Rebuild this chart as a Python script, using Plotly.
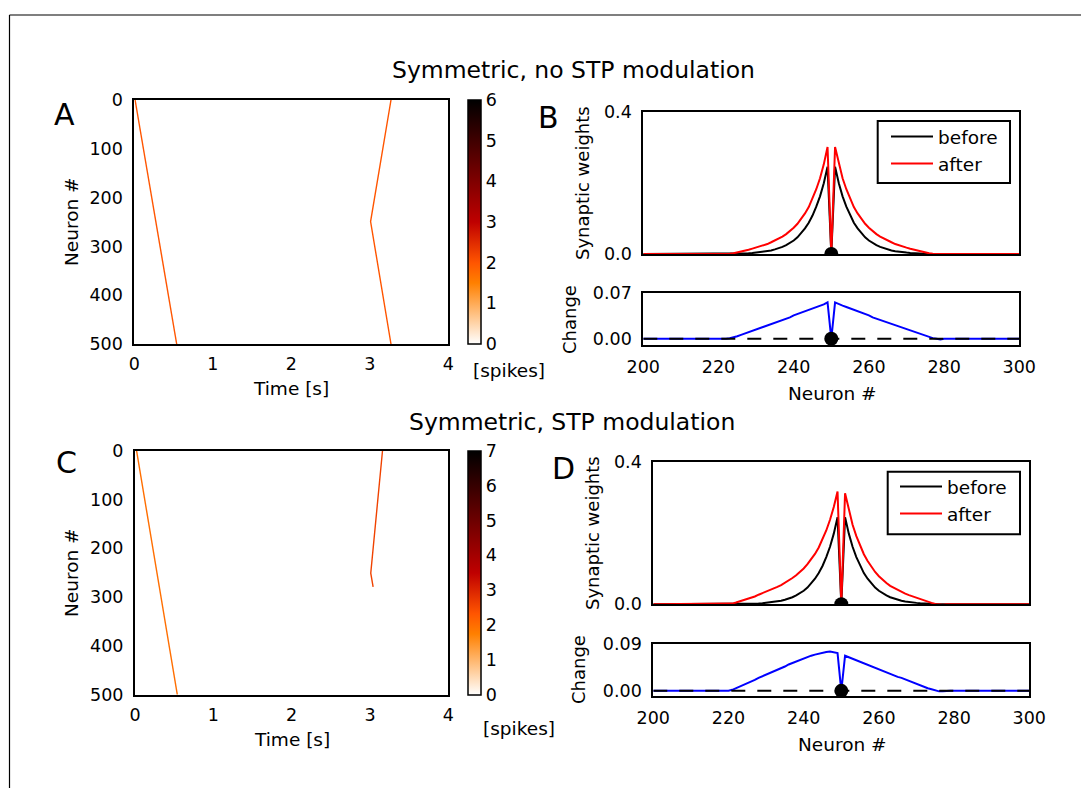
import plotly.graph_objects as go
from plotly.colors import sample_colorscale

W, H = 1081, 788
FONT = "DejaVu Sans"

# ---------------- data ----------------
time_ticks = [0, 1, 2, 3, 4]
neuron_ticks = [0, 100, 200, 300, 400, 500]
zoom_ticks = [200, 220, 240, 260, 280, 300]

# spike wave fronts (time [s] vs neuron #) and their spike counts
A_wave1_t = [0.01, 0.54]
A_wave1_n = [0, 500]
A_wave2_t = [3.27, 3.01, 3.27]
A_wave2_n = [0, 249, 500]
A_wave_spikes = [2, 2]
A_cmax = 6

C_wave1_t = [0.02, 0.54]
C_wave1_n = [0, 500]
C_wave2_t = [3.16, 3.01, 3.04]
C_wave2_n = [0, 251, 279]
C_wave_spikes = [2, 2.6]
C_cmax = 7

probe_neuron = 250
neurons = list(range(200, 301))

w_before = [
    0, 0, 0, 0, 0, 0, 0, 0, 0, 0,                      # 200-209
    0, 0, 0, 0, 0, 0, 0, 0, 0, 0,                      # 210-219
    0, 0, 0, 0, 0, 0, 0.001, 0.001, 0.002, 0.003,      # 220-229
    0.004, 0.005, 0.006, 0.008, 0.010, 0.013, 0.016, 0.020, 0.025, 0.031,  # 230-239
    0.038, 0.047, 0.058, 0.072, 0.088, 0.108, 0.133, 0.162, 0.199, 0.245,  # 240-249
    0,                                                 # 250
    0.245, 0.199, 0.162, 0.133, 0.108, 0.088, 0.072, 0.058, 0.047, 0.038,  # 251-260
    0.031, 0.025, 0.020, 0.016, 0.013, 0.010, 0.008, 0.006, 0.005, 0.004,  # 261-270
    0.003, 0.002, 0.001, 0.001, 0, 0, 0, 0, 0, 0,      # 271-280
    0, 0, 0, 0, 0, 0, 0, 0, 0, 0,                      # 281-290
    0, 0, 0, 0, 0, 0, 0, 0, 0, 0,                      # 291-300
]

w_after_B = [
    0, 0, 0, 0, 0, 0, 0, 0, 0, 0,                      # 200-209
    0, 0, 0, 0, 0, 0, 0, 0, 0, 0,                      # 210-219
    0, -0.001, 0, 0.001, 0.002, 0.004, 0.007, 0.009, 0.012, 0.015,  # 220-229
    0.018, 0.021, 0.024, 0.028, 0.033, 0.038, 0.043, 0.049, 0.056, 0.064,  # 230-239
    0.074, 0.085, 0.098, 0.114, 0.132, 0.155, 0.182, 0.213, 0.252, 0.301,  # 240-249
    0,                                                 # 250
    0.301, 0.252, 0.213, 0.182, 0.155, 0.132, 0.114, 0.098, 0.085, 0.074,  # 251-260
    0.064, 0.056, 0.049, 0.043, 0.038, 0.033, 0.028, 0.024, 0.021, 0.018,  # 261-270
    0.015, 0.012, 0.009, 0.007, 0.004, 0.002, 0.001, 0, -0.001, 0,        # 271-280
    0, 0, 0, 0, 0, 0, 0, 0, 0, 0,                      # 281-290
    0, 0, 0, 0, 0, 0, 0, 0, 0, 0,                      # 291-300
]

w_after_D = [
    0, 0, 0, 0, 0, 0, 0, 0, 0, 0,                      # 200-209
    0, 0, 0, 0, 0, 0, 0, 0, 0, 0,                      # 210-219
    0, 0.002, 0.005, 0.008, 0.012, 0.015, 0.019, 0.022, 0.027, 0.031,  # 220-229
    0.035, 0.039, 0.043, 0.049, 0.054, 0.060, 0.067, 0.074, 0.082, 0.091,  # 230-239
    0.101, 0.113, 0.126, 0.142, 0.160, 0.182, 0.208, 0.238, 0.274, 0.318,  # 240-249
    0,                                                 # 250
    0.313, 0.264, 0.224, 0.192, 0.164, 0.141, 0.122, 0.105, 0.091, 0.079,  # 251-260
    0.069, 0.060, 0.052, 0.046, 0.040, 0.035, 0.030, 0.026, 0.022, 0.018,  # 261-270
    0.014, 0.010, 0.006, 0.004, 0.001, -0.001, -0.001, 0, 0, 0,            # 271-280
    0, 0, 0, 0, 0, 0, 0, 0, 0, 0,                      # 281-290
    0, 0, 0, 0, 0, 0, 0, 0, 0, 0,                      # 291-300
]

assert len(w_before) == len(w_after_B) == len(w_after_D) == len(neurons)
change_B = [round(a - b, 4) for a, b in zip(w_after_B, w_before)]
change_D = [round(a - b, 4) for a, b in zip(w_after_D, w_before)]

# ---------------- style ----------------
gist_heat_r = [[0, "rgb(255,255,255)"], [0.25, "rgb(255,128,0)"],
               [1 / 3, "rgb(255,85,0)"], [0.5, "rgb(191,0,0)"], [1, "rgb(0,0,0)"]]


def px_x(p):
    return p / W


def px_y(p):
    return 1 - p / H


fig = go.Figure()


def wave(t, n, spikes, cmax, xa, ya, cax):
    col = sample_colorscale(gist_heat_r, [spikes / cmax])[0]
    fig.add_trace(go.Scatter(
        x=t, y=n, mode="lines", xaxis=xa, yaxis=ya, showlegend=False,
        line=dict(color=col, width=1.4), hoverinfo="skip"))
    # invisible markers carrying the spike count -> drives the colorbar
    fig.add_trace(go.Scatter(
        x=t, y=n, mode="markers", xaxis=xa, yaxis=ya, showlegend=False,
        marker=dict(size=1, opacity=0, color=[spikes] * len(t), coloraxis=cax),
        hoverinfo="skip"))


wave(A_wave1_t, A_wave1_n, A_wave_spikes[0], A_cmax, "x", "y", "coloraxis")
wave(A_wave2_t, A_wave2_n, A_wave_spikes[1], A_cmax, "x", "y", "coloraxis")
wave(C_wave1_t, C_wave1_n, C_wave_spikes[0], C_cmax, "x4", "y4", "coloraxis2")
wave(C_wave2_t, C_wave2_n, C_wave_spikes[1], C_cmax, "x4", "y4", "coloraxis2")


def weights_panel(after, change, xa_top, ya_top, xa_bot, ya_bot, leg):
    fig.add_trace(go.Scatter(x=neurons, y=w_before, mode="lines", name="before",
                             line=dict(color="black", width=2), xaxis=xa_top, yaxis=ya_top,
                             legend=leg))
    fig.add_trace(go.Scatter(x=neurons, y=after, mode="lines", name="after",
                             line=dict(color="red", width=2), xaxis=xa_top, yaxis=ya_top,
                             legend=leg))
    fig.add_trace(go.Scatter(x=[probe_neuron], y=[0], mode="markers", showlegend=False,
                             marker=dict(size=14, color="black"), xaxis=xa_top, yaxis=ya_top))
    fig.add_trace(go.Scatter(x=neurons, y=change, mode="lines", showlegend=False,
                             line=dict(color="blue", width=2), xaxis=xa_bot, yaxis=ya_bot))
    fig.add_trace(go.Scatter(x=[neurons[0], neurons[-1]], y=[0, 0], mode="lines",
                             showlegend=False,
                             line=dict(color="black", width=2, dash="14px,12px"),
                             xaxis=xa_bot, yaxis=ya_bot))
    fig.add_trace(go.Scatter(x=[probe_neuron], y=[0], mode="markers", showlegend=False,
                             marker=dict(size=14, color="black"), xaxis=xa_bot, yaxis=ya_bot))


weights_panel(w_after_B, change_B, "x2", "y2", "x3", "y3", "legend")
weights_panel(w_after_D, change_D, "x5", "y5", "x6", "y6", "legend2")

tickfont = dict(family=FONT, size=17.5, color="black")
frame = dict(showline=True, mirror=True, linewidth=2, linecolor="black",
             showgrid=False, zeroline=False, ticks="", tickfont=tickfont,
             fixedrange=True, automargin=False)

# pixel boxes (left, right, top, bottom)
boxA = (134.3, 448.3, 100, 344)
boxC = (135, 448.3, 450.7, 694.7)
boxBt = (643.3, 1019.3, 111.7, 254)
boxBb = (643.3, 1019.3, 293.3, 345.3)
boxDt = (653.3, 1029.3, 462.3, 604.3)
boxDb = (653.3, 1029.3, 644.3, 696)
legbox_B = (877.7, 1010, 121, 183)
legbox_D = (887.7, 1020, 471.7, 534.3)


def dom(b):
    return [px_x(b[0]), px_x(b[1])], [px_y(b[3]), px_y(b[2])]


layout = dict(width=W, height=H, margin=dict(l=0, r=0, t=0, b=0, autoexpand=False),
              paper_bgcolor="white", plot_bgcolor="white", hovermode=False,
              font=dict(family=FONT, color="black"))


def set_axes(i, box, xkw, ykw):
    xd, yd = dom(box)
    sx = "" if i == 1 else str(i)
    layout["xaxis" + sx] = dict(frame, domain=xd, anchor="y" + sx, **xkw)
    layout["yaxis" + sx] = dict(frame, domain=yd, anchor="x" + sx, **ykw)


set_axes(1, boxA, dict(range=[0, 4], tickvals=time_ticks, ticklabelstandoff=3),
         dict(range=[500, 0], tickvals=neuron_ticks, ticklabelstandoff=6))
set_axes(4, boxC, dict(range=[0, 4], tickvals=time_ticks, ticklabelstandoff=3),
         dict(range=[500, 0], tickvals=neuron_ticks, ticklabelstandoff=6))
set_axes(2, boxBt, dict(range=[200, 300], showticklabels=False),
         dict(range=[0, 0.4], tickvals=[0, 0.4], ticktext=["0.0", "0.4"], ticklabelstandoff=6))
set_axes(3, boxBb, dict(range=[200, 300], tickvals=zoom_ticks, ticklabelstandoff=5),
         dict(range=[-0.01, 0.07], tickvals=[0, 0.07], ticktext=["0.00", "0.07"],
              ticklabelstandoff=6))
set_axes(5, boxDt, dict(range=[200, 300], showticklabels=False),
         dict(range=[0, 0.4], tickvals=[0, 0.4], ticktext=["0.0", "0.4"], ticklabelstandoff=6))
set_axes(6, boxDb, dict(range=[200, 300], tickvals=zoom_ticks, ticklabelstandoff=5),
         dict(range=[-0.01, 0.09], tickvals=[0, 0.09], ticktext=["0.00", "0.09"],
              ticklabelstandoff=6))


def cbar(box, cmax):
    return dict(cmin=0, cmax=cmax, colorscale=gist_heat_r,
                colorbar=dict(x=px_x(467.7), xanchor="left",
                              y=px_y((box[2] + box[3]) / 2), yanchor="middle",
                              len=(box[3] - box[2]) / H, lenmode="fraction",
                              thickness=12.5, thicknessmode="pixels",
                              outlinewidth=1.5, outlinecolor="black",
                              xpad=0, ypad=0, ticks="", ticklabelposition="outside",
                              tickvals=list(range(cmax + 1)), tickfont=tickfont))


layout["coloraxis"] = cbar(boxA, A_cmax)
layout["coloraxis2"] = cbar(boxC, C_cmax)

legfont = dict(family=FONT, size=18.5, color="black")
layout["legend"] = dict(x=px_x(886), xanchor="left", y=px_y(118), yanchor="top",
                        borderwidth=0, bgcolor="rgba(0,0,0,0)",
                        font=legfont, itemwidth=42, tracegroupgap=0)
layout["legend2"] = dict(x=px_x(895), xanchor="left", y=px_y(468), yanchor="top",
                         borderwidth=0, bgcolor="rgba(0,0,0,0)",
                         font=legfont, itemwidth=42, tracegroupgap=0)

ann = []


def text(s, x, y, size, angle=0):
    ann.append(dict(text=s, x=px_x(x), y=px_y(y), xref="paper", yref="paper",
                    xanchor="center", yanchor="middle", showarrow=False,
                    textangle=angle, font=dict(family=FONT, size=size, color="black")))


text("Symmetric, no STP modulation", 573, 70, 23.5)
text("Symmetric, STP modulation", 572, 422, 23.5)
text("A", 64, 114, 30)
text("B", 548, 118, 30)
text("C", 66, 462, 30)
text("D", 563, 468, 30)
text("Neuron #", 71, 222, 18.5, -90)
text("Neuron #", 71, 573, 18.5, -90)
text("Time [s]", 291, 388, 18.5)
text("Time [s]", 292, 739, 18.5)
text("[spikes]", 509, 371, 18.5)
text("[spikes]", 519, 728, 18.5)
text("Synaptic weights", 582, 183, 18, -90)
text("Change", 569, 320, 18, -90)
text("Neuron #", 832, 393, 18.5)
text("Synaptic weights", 592, 533, 18, -90)
text("Change", 578, 670, 18, -90)
text("Neuron #", 842, 744, 18.5)
layout["annotations"] = ann


def rect(b):
    return dict(type="rect", xref="paper", yref="paper", layer="above",
                x0=px_x(b[0]), x1=px_x(b[1]), y0=px_y(b[3]), y1=px_y(b[2]),
                line=dict(color="black", width=2))


layout["shapes"] = [
    dict(type="line", xref="paper", yref="paper", x0=px_x(9.5), x1=1, y0=px_y(15), y1=px_y(15),
         line=dict(color="black", width=1.2)),
    dict(type="line", xref="paper", yref="paper", x0=px_x(9.5), x1=px_x(9.5), y0=0, y1=px_y(15),
         line=dict(color="black", width=1.2)),
    rect(legbox_B),
    rect(legbox_D),
]

fig.update_layout(**layout)
fig.write_html("out.html", config={"displayModeBar": False},
               post_script="document.body.style.margin='0';")
